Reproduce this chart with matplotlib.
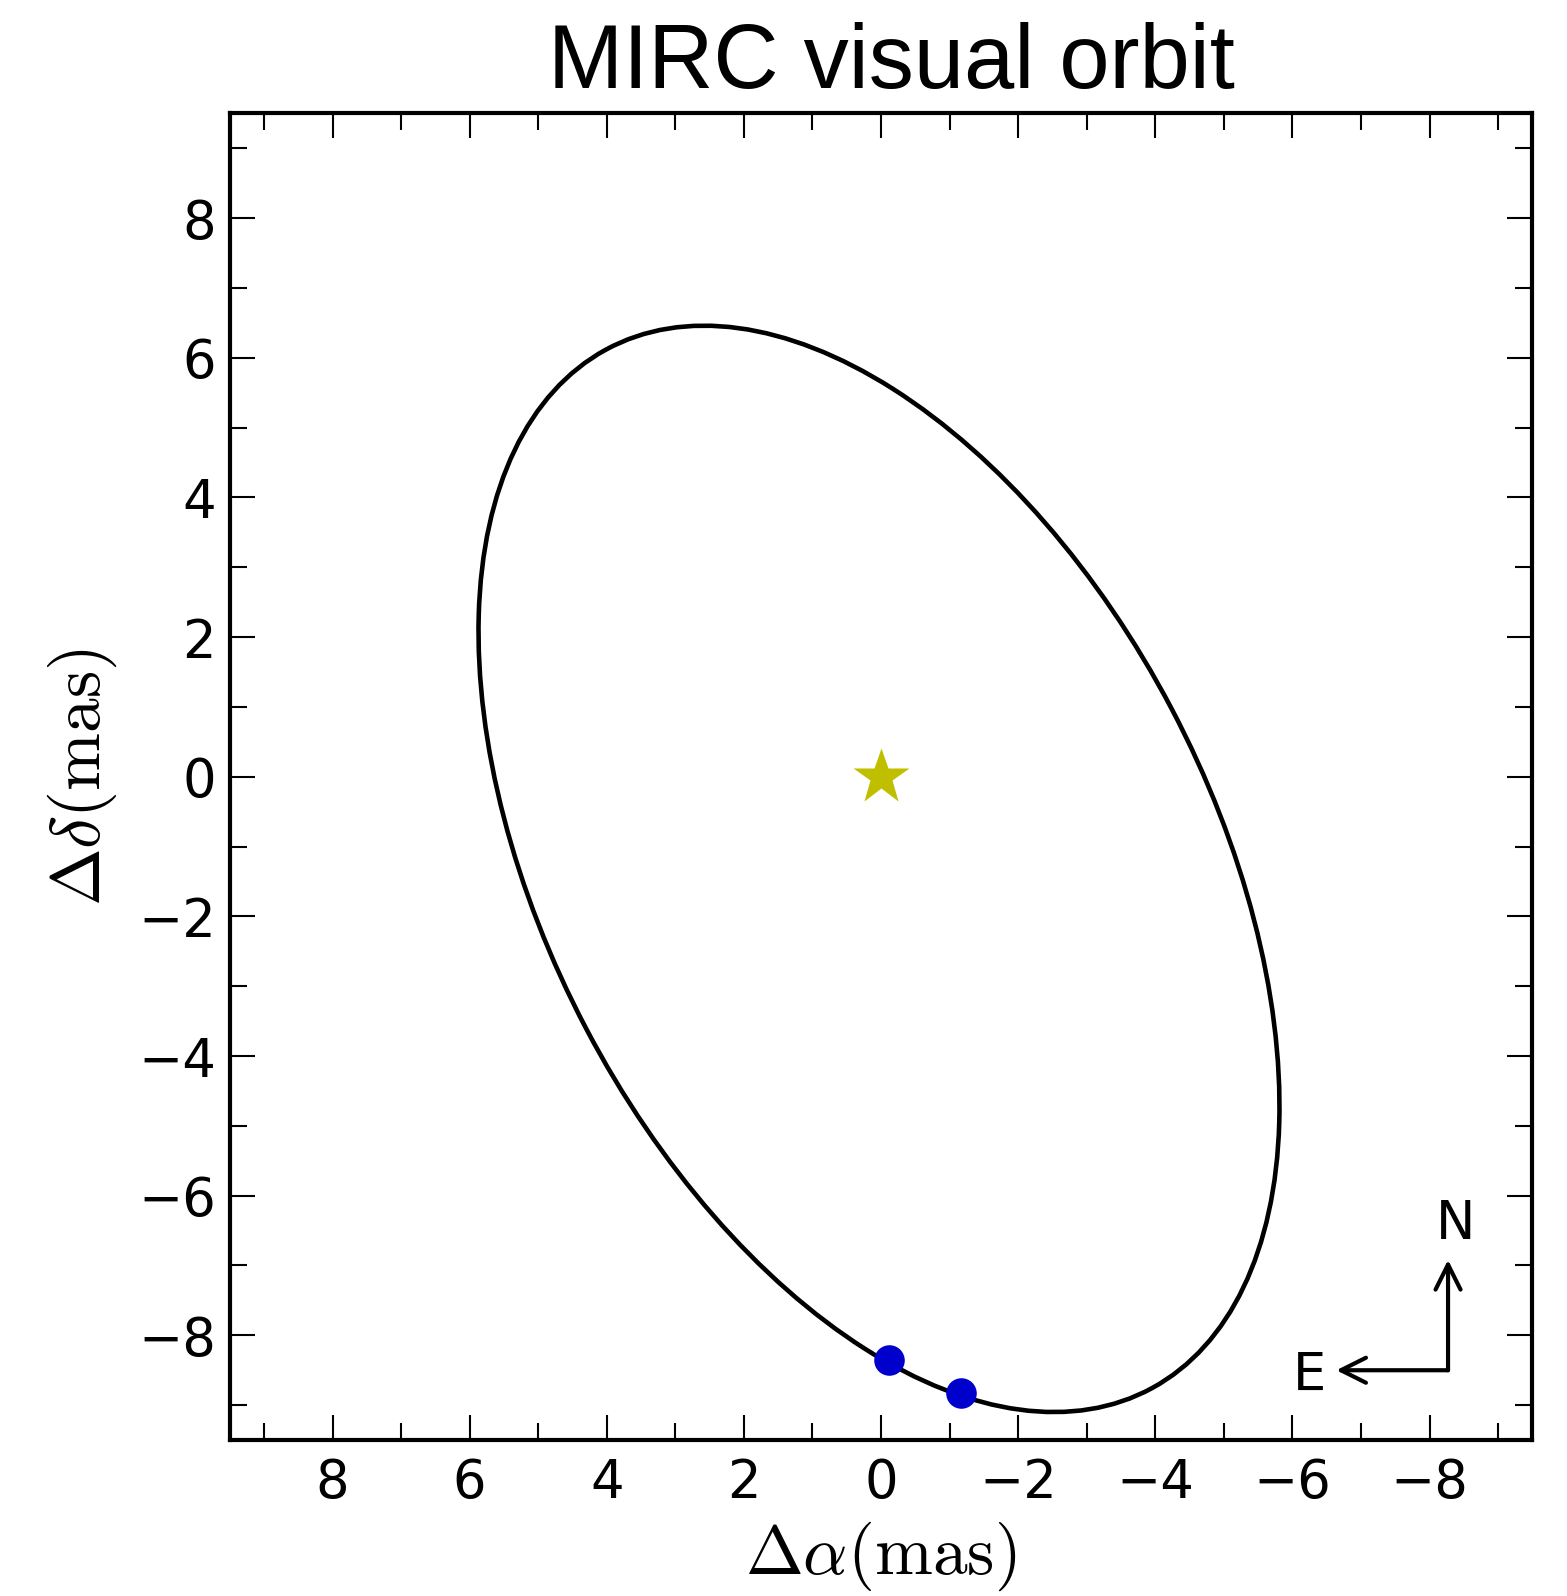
import numpy as np
import matplotlib
matplotlib.use("Agg")
import matplotlib.pyplot as plt
from matplotlib.patches import Ellipse
from matplotlib.ticker import MultipleLocator

plt.rcParams["mathtext.fontset"] = "cm"

# apparent (projected) orbit ellipse, mas
orbit_center = (0.03, -1.32)
orbit_major = 16.87   # full major axis
orbit_minor = 9.69    # full minor axis
orbit_angle = 61.8    # deg, from +dRA towards +dDec

# MIRC epochs
mirc_ra = [-0.12, -1.16]
mirc_dec = [-8.36, -8.83]

# primary star
primary_ra = [0.0]
primary_dec = [0.0]

ticks = [8, 6, 4, 2, 0, -2, -4, -6, -8]

fig = plt.figure(figsize=(15.67, 15.96), dpi=100)
ax = fig.add_axes([0.1466, 0.0977, 0.8313, 0.8313])

ell = Ellipse(orbit_center, orbit_major, orbit_minor, angle=orbit_angle,
              fill=False, edgecolor="black", lw=3.3, zorder=2)
ax.add_patch(ell)

ax.plot(primary_ra, primary_dec, "*", color=(0.75, 0.75, 0), ms=42, mec="none", zorder=3)
ax.plot(mirc_ra, mirc_dec, "o", color="#0000cd", ms=22, mec="none", zorder=3)

# compass
corner = (-8.27, -8.50)
arrow = dict(arrowstyle="->", lw=3, color="black", mutation_scale=45, shrinkA=0, shrinkB=0)
ax.annotate("", xy=(-8.27, -6.92), xytext=corner, arrowprops=arrow)
ax.annotate("", xy=(-6.64, -8.50), xytext=corner, arrowprops=arrow)
ax.text(-8.38, -6.41, "N", fontsize=38, ha="center", va="center")
ax.text(-6.25, -8.58, "E", fontsize=38, ha="center", va="center")

ax.set_xlim(9.5, -9.5)
ax.set_ylim(-9.5, 9.5)
ax.set_xticks(ticks)
ax.set_yticks(ticks)
ax.xaxis.set_minor_locator(MultipleLocator(1))
ax.yaxis.set_minor_locator(MultipleLocator(1))
ax.tick_params(which="both", direction="in", top=True, right=True, width=1.5, labelsize=38, pad=10)
ax.tick_params(axis="x", which="major", pad=12)
ax.tick_params(which="major", length=18)
ax.tick_params(which="minor", length=12)
for s in ax.spines.values():
    s.set_linewidth(3)

ax.set_xlabel(r"$\Delta\alpha(\rm mas)$", fontsize=50, labelpad=8)
ax.set_ylabel(r"$\Delta\delta(\rm mas)$", fontsize=50, labelpad=14)
ax.set_title("MIRC visual orbit", fontsize=65, family="Liberation Sans", pad=18, x=0.508)

fig.savefig("out.png", dpi=100)
